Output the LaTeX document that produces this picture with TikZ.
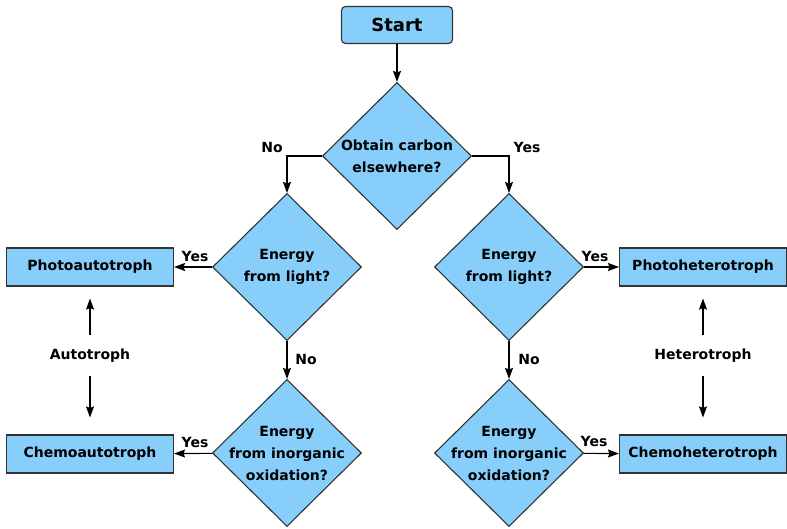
\documentclass[tikz,border=0pt]{standalone}
\usepackage{fontspec}
\setmainfont{DejaVu Sans}
\usetikzlibrary{shapes.geometric}
\usetikzlibrary{arrows.meta}
\definecolor{skyfill}{RGB}{135,206,250}
\definecolor{edgegray}{RGB}{51,51,51}
\tikzset{every node/.style={font=\bfseries\fontsize{14}{22}\selectfont},
 startbox/.style={draw=edgegray,fill=skyfill,rounded corners=4pt,
   minimum width=111pt,minimum height=37pt,line width=1.1pt,
   font=\bfseries\fontsize{18}{22}\selectfont},
 kindbox/.style={draw=edgegray,fill=skyfill,minimum width=167pt,
   minimum height=38pt,line width=1.1pt},
 question/.style={draw=edgegray,fill=skyfill,diamond,align=center,
   minimum width=149pt,minimum height=147pt,inner sep=-14pt,line width=1.1pt},
 flow/.style={draw=black,line width=1.1pt,-{Stealth[length=11pt,width=8pt,inset=1.5pt]}},
 }

\begin{document}
\begin{tikzpicture}[x=1pt,y=-1pt]
        \useasboundingbox (0,0) rectangle (787,529);
        % decisions
        \node[startbox] (start) at (397,25) {Start};
        \node[question] (carbon) at (397,156) {Obtain carbon\\elsewhere?};
        \node[question] (lightL) at (287,267) {Energy\\from light?};
        \node[question] (lightR) at (509,267) {Energy\\from light?};
        \node[question] (oxidL) at (287,453) {Energy\\from inorganic\\oxidation?};
        \node[question] (oxidR) at (509,453) {Energy\\from inorganic\\oxidation?};

        % outcomes
        \node[kindbox] (photoauto) at (90,267) {Photoautotroph};
        \node[kindbox] (chemoauto) at (90,454) {Chemoautotroph};
        \node[kindbox] (photohetero) at (703,267) {Photoheterotroph};
        \node[kindbox] (chemohetero) at (703,454) {Chemoheterotroph};
        \node (auto) at (90,356) {Autotroph};
        \node (hetero) at (703,356) {Heterotroph};

        % answers
        \node (noL) at (272,147) {No};
        \node (yesR) at (527,147) {Yes};
        \node (yesPA) at (195,256) {Yes};
        \node (yesCA) at (195,442) {Yes};
        \node (yesPH) at (595,256) {Yes};
        \node (yesCH) at (594,441) {Yes};
        \node (noLL) at (306,359) {No};
        \node (noRL) at (529,359) {No};

        \draw[flow] (start) -- (carbon);
        \draw[flow] (carbon.west) -| (lightL.north);
        \draw[flow] (carbon.east) -| (lightR.north);
        \draw[flow] (lightL) -- (photoauto);
        \draw[flow] (lightR) -- (photohetero);
        \draw[flow] (lightL) -- (oxidL);
        \draw[flow] (lightR) -- (oxidR);
        \draw[flow] (oxidL) -- (chemoauto);
        \draw[flow] (oxidR) -- (chemohetero);
        \draw[flow,shorten <=11pt,shorten >=12pt] (auto) -- (photoauto);
        \draw[flow,shorten <=10pt,shorten >=17pt] (auto) -- (chemoauto);
        \draw[flow,shorten <=11pt,shorten >=12pt] (hetero) -- (photohetero);
        \draw[flow,shorten <=10pt,shorten >=17pt] (hetero) -- (chemohetero);
    \end{tikzpicture}
\end{document}
